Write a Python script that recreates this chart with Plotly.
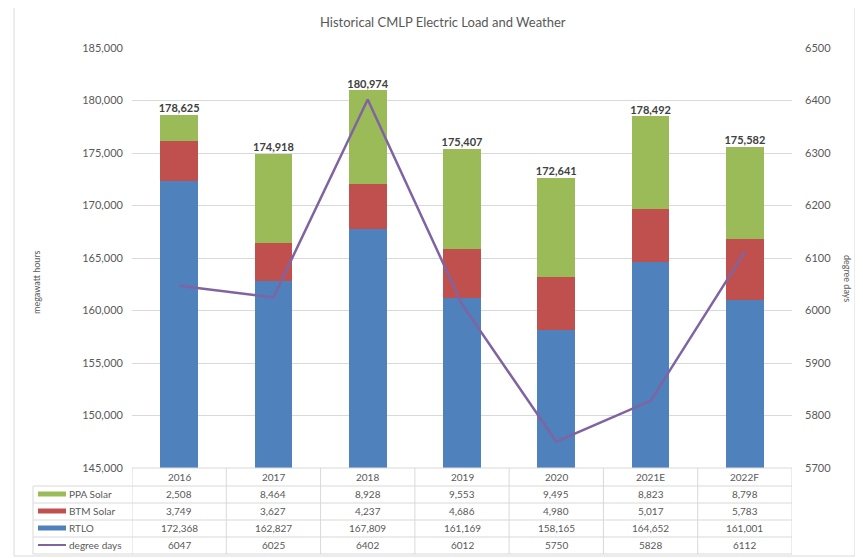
import plotly.graph_objects as go

years = ["2016", "2017", "2018", "2019", "2020", "2021E", "2022F"]
ppa_solar = [2508, 8464, 8928, 9553, 9495, 8823, 8798]
btm_solar = [3749, 3627, 4237, 4686, 4980, 5017, 5783]
rtlo = [172368, 162827, 167809, 161169, 158165, 164652, 161001]
degree_days = [6047, 6025, 6402, 6012, 5750, 5828, 6112]
totals = [178625, 174918, 180974, 175407, 172641, 178492, 175582]

left_ticks = list(range(145000, 185001, 5000))
right_ticks = list(range(5700, 6501, 100))

C_PPA = "#9BBB59"
C_BTM = "#C0504D"
C_RTLO = "#4F81BD"
C_DD = "#8064A2"
TXT = "#595959"
GRID = "#D9D9D9"
FONT = "Lato"

OFF = 8  # page body margin
W, H = 863 - OFF, 558 - OFF
L, R, T, B = 132 - OFF, 71, 48 - OFF, 90
PW = W - L - R
PH = H - T - B


def px_x(px):
    return (px - OFF - L) / PW


def px_y(py):
    return (H - B - (py - OFF)) / PH


fig = go.Figure()
fig.add_trace(go.Bar(x=years, y=rtlo, name="RTLO", marker_color=C_RTLO, marker_line_width=0))
fig.add_trace(go.Bar(x=years, y=btm_solar, name="BTM Solar", marker_color=C_BTM, marker_line_width=0))
fig.add_trace(go.Bar(x=years, y=ppa_solar, name="PPA Solar", marker_color=C_PPA, marker_line_width=0))
fig.add_trace(go.Scatter(x=years, y=totals, mode="text",
                         text=[f"{v:,}" for v in totals], textposition="top center",
                         textfont=dict(family=FONT, size=11, color="#404040", weight="bold"),
                         cliponaxis=False, showlegend=False))
fig.add_trace(go.Scatter(x=years, y=degree_days, mode="lines", name="degree days",
                         line=dict(color=C_DD, width=2.5), yaxis="y2", showlegend=False))

fig.update_layout(
    width=W, height=H,
    margin=dict(l=L, r=R, t=T, b=B),
    barmode="stack", bargap=0.6,
    showlegend=False,
    plot_bgcolor="white", paper_bgcolor="white",
    font=dict(family=FONT, size=11, color=TXT),
    xaxis=dict(type="category", showticklabels=False, showgrid=False, zeroline=False,
               showline=False, range=[-0.5, 6.5]),
    yaxis=dict(range=[145000, 185000], tickvals=left_ticks,
               ticktext=[f"{v:,}" for v in left_ticks], showgrid=True, gridcolor=GRID,
               gridwidth=1, zeroline=False, showline=False, ticks="",
               ticklabelstandoff=8, tickfont=dict(family=FONT, size=11, color=TXT)),
    yaxis2=dict(range=[5700, 6500], tickvals=right_ticks, overlaying="y", side="right",
                showgrid=False, zeroline=False, showline=False, ticks="",
                ticklabelstandoff=12, tickfont=dict(family=FONT, size=11, color=TXT)),
)

shapes = []
# outer chart frame
shapes.append(dict(type="rect", xref="paper", yref="paper",
                   x0=px_x(14), x1=px_x(855), y0=px_y(556), y1=px_y(5),
                   line=dict(color="#D9D9D9", width=1), fillcolor="rgba(0,0,0,0)", layer="below"))

# data table
row_lines = [468, 486, 503, 520, 537, 554]
row_centers = [477, 494, 511, 528, 545]
TABLE_LEFT = 33
for i, py in enumerate(row_lines):
    if i == 0:
        shapes.append(dict(type="line", xref="x", yref="paper", x0=-0.5, x1=6.5,
                           y0=px_y(py), y1=px_y(py), line=dict(color=GRID, width=1)))
    else:
        shapes.append(dict(type="line", xref="paper", yref="paper", x0=px_x(TABLE_LEFT), x1=1,
                           y0=px_y(py), y1=px_y(py), line=dict(color=GRID, width=1)))
for k in range(len(years) + 1):
    shapes.append(dict(type="line", xref="x", yref="paper", x0=k - 0.5, x1=k - 0.5,
                       y0=px_y(468), y1=px_y(554), line=dict(color=GRID, width=1)))
shapes.append(dict(type="line", xref="paper", yref="paper", x0=px_x(TABLE_LEFT), x1=px_x(TABLE_LEFT),
                   y0=px_y(486), y1=px_y(554), line=dict(color=GRID, width=1)))

annotations = []
cell_font = dict(family=FONT, size=10, color=TXT)
for j, yr in enumerate(years):
    annotations.append(dict(x=j, y=px_y(row_centers[0]), xref="x", yref="paper",
                            text=yr, showarrow=False, font=cell_font,
                            xanchor="center", yanchor="middle"))

rows = [("PPA Solar", ppa_solar, C_PPA, 5, True),
        ("BTM Solar", btm_solar, C_BTM, 5, True),
        ("RTLO", rtlo, C_RTLO, 5, True),
        ("degree days", degree_days, C_DD, 2, False)]
for r, (name, vals, col, lw, comma) in enumerate(rows):
    yc = px_y(row_centers[r + 1])
    for j in range(len(years)):
        annotations.append(dict(x=j, y=yc, xref="x", yref="paper",
                                text=f"{vals[j]:,}" if comma else str(vals[j]),
                                showarrow=False, font=cell_font,
                                xanchor="center", yanchor="middle"))
    shapes.append(dict(type="line", xref="paper", yref="paper", x0=px_x(38), x1=px_x(66),
                       y0=yc, y1=yc, line=dict(color=col, width=lw)))
    annotations.append(dict(x=px_x(67), y=yc, xref="paper", yref="paper", text=name,
                            xanchor="left", yanchor="middle", showarrow=False, font=cell_font))

# title and axis titles
annotations.append(dict(x=px_x(443), y=px_y(22), xref="paper", yref="paper",
                        text="Historical CMLP Electric Load and Weather", showarrow=False,
                        xanchor="center", yanchor="middle",
                        font=dict(family=FONT, size=13, color=TXT)))
annotations.append(dict(x=px_x(36), y=px_y(282), xref="paper", yref="paper",
                        text="megawatt hours", textangle=-90, showarrow=False,
                        xanchor="center", yanchor="middle",
                        font=dict(family=FONT, size=9, color=TXT)))
annotations.append(dict(x=px_x(848), y=px_y(278), xref="paper", yref="paper",
                        text="degree days", textangle=90, showarrow=False,
                        xanchor="center", yanchor="middle",
                        font=dict(family=FONT, size=9, color=TXT)))

fig.update_layout(shapes=shapes, annotations=annotations)
fig.write_html("out.html")
